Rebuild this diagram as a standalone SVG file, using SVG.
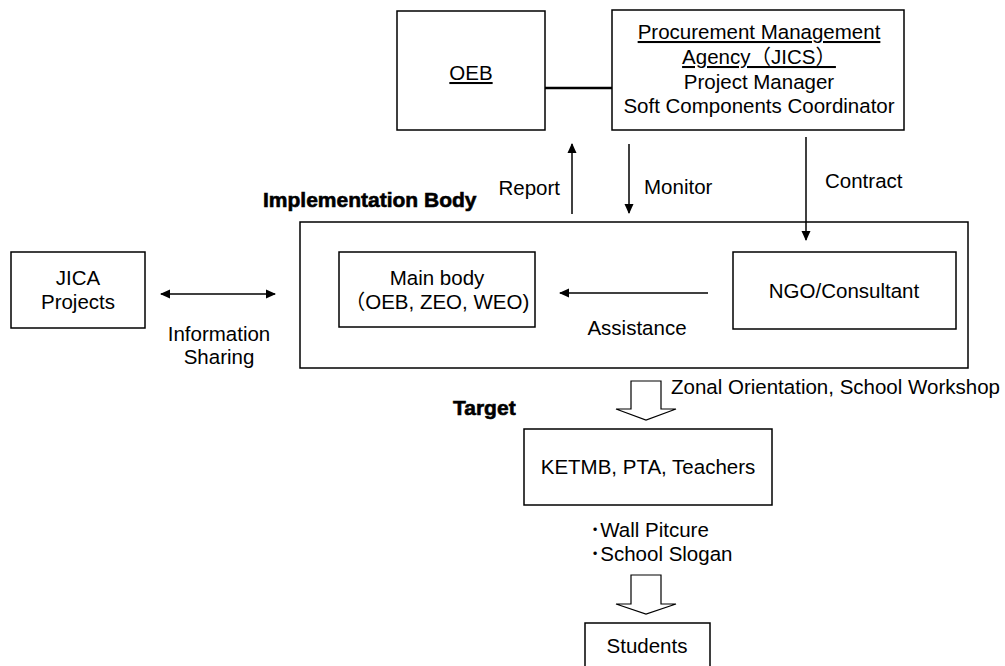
<svg xmlns="http://www.w3.org/2000/svg" width="1005" height="666" viewBox="0 0 1005 666">
<style>
  .box { fill: #fff; stroke: #000; stroke-width: 1.5; }
  .t { font-family: "Liberation Sans", "Noto Sans CJK JP", sans-serif; font-size: 20.5px; fill: #000; }
  .c { text-anchor: middle; }
  .ul { text-decoration: underline; }
  .h { font-family: "Liberation Sans", "Noto Sans CJK JP", sans-serif; font-size: 21px; font-weight: bold; fill: #000; stroke: #000; stroke-width: 0.6; }
  .ln { stroke: #000; stroke-width: 1.5; fill: none; }
  .blk { fill: #fff; stroke: #000; stroke-width: 1.2; }
</style>
<defs>
  <marker id="ah" markerWidth="10" markerHeight="10" refX="9" refY="5" orient="auto-start-reverse" markerUnits="userSpaceOnUse">
    <path d="M0,0.5 L10,5 L0,9.5 Z" fill="#000"/>
  </marker>
</defs>
<rect width="1005" height="666" fill="#fff"/>

<g id="oeb">
  <rect class="box" x="397" y="11" width="148" height="119"/>
  <text class="t c ul" x="471" y="80">OEB</text>
</g>

<g id="jics">
  <rect class="box" x="612" y="10" width="292" height="120"/>
  <text class="t c ul" x="759" y="39">Procurement Management</text>
  <text class="t c ul" x="759" y="64">Agency（JICS）</text>
  <text class="t c" x="759" y="89">Project Manager</text>
  <text class="t c" x="759" y="113">Soft Components Coordinator</text>
</g>

<g id="impl">
  <text class="h" x="263" y="207">Implementation Body</text>
  <rect class="box" x="300" y="222" width="668" height="146"/>
</g>

<g id="mainbody">
  <rect class="box" x="339" y="252" width="196" height="75"/>
  <text class="t c" x="437" y="285">Main body</text>
  <text class="t c" x="437" y="309">（OEB, ZEO, WEO)</text>
</g>

<g id="ngo">
  <rect class="box" x="733" y="252" width="223" height="77"/>
  <text class="t c" x="844" y="298">NGO/Consultant</text>
</g>

<g id="jica">
  <rect class="box" x="11" y="252" width="134" height="76"/>
  <text class="t c" x="78" y="285">JICA</text>
  <text class="t c" x="78" y="309">Projects</text>
</g>

<g id="target">
  <text class="h" x="453" y="415">Target</text>
  <rect class="box" x="524" y="429" width="248" height="76"/>
  <text class="t c" x="648" y="474">KETMB, PTA, Teachers</text>
</g>

<g id="students">
  <rect class="box" x="585" y="623" width="125" height="60"/>
  <text class="t c" x="647" y="653">Students</text>
</g>

<g id="connectors">
  <line x1="545" y1="88" x2="612" y2="88" stroke="#000" stroke-width="2.5"/>
  <line class="ln" x1="572" y1="214" x2="572" y2="144" marker-end="url(#ah)"/>
  <line class="ln" x1="629" y1="144" x2="629" y2="213" marker-end="url(#ah)"/>
  <line class="ln" x1="806" y1="137" x2="806" y2="240" marker-end="url(#ah)"/>
  <line class="ln" x1="708" y1="293" x2="560" y2="293" marker-end="url(#ah)"/>
  <line class="ln" x1="161" y1="294" x2="275" y2="294" marker-start="url(#ah)" marker-end="url(#ah)"/>
  <path class="blk" d="M631,381 L661,381 L661,409 L676,409 L646,420 L616,409 L631,409 Z"/>
  <path class="blk" d="M631,575 L661,575 L661,604 L676,604 L646,614 L616,604 L631,604 Z"/>
  <text class="t" x="560" y="195" text-anchor="end">Report</text>
  <text class="t" x="644" y="194">Monitor</text>
  <text class="t" x="825" y="188">Contract</text>
  <text class="t c" x="637" y="335">Assistance</text>
  <text class="t c" x="219" y="341">Information</text>
  <text class="t c" x="219" y="364">Sharing</text>
  <text class="t" x="671" y="394">Zonal Orientation, School Workshop</text>
  <text class="t" x="590" y="537">･Wall Pitcure</text>
  <text class="t" x="590" y="561">･School Slogan</text>
</g>
</svg>
